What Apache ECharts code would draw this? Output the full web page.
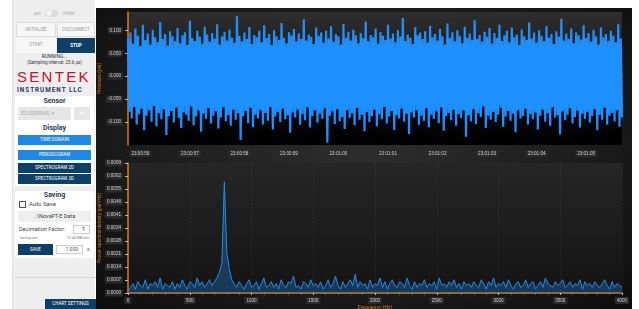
<!DOCTYPE html>
<html>
<head>
<meta charset="UTF-8" />
<script src="https://cdn.jsdelivr.net/npm/echarts@6/dist/echarts.min.js"></script>
<style>
	body { margin: 0; width: 639px; height: 309px; overflow: hidden; background: #fff; font-family: Roboto, "DejaVu Sans", sans-serif; position: relative; }
	.abs { position: absolute; box-sizing: border-box; }
	#panel { left: 12px; top: 0; width: 83px; height: 309px; background: #eeeeee; border-left: 1px solid #e0e0e0; }
	.btn { position: absolute; box-sizing: border-box; text-align: center; font-size: 4.5px; line-height: 10px; color: #fff; white-space: nowrap; }
	.light { background: #f7f7f7; color: #999; border: 1px solid #ddd; }
	.navy { background: #0e3f66; }
	.blue { background: #1e88e5; }
	.card { position: absolute; background: #fff; border-radius: 2px; }
	.hdr { position: absolute; width: 100%; text-align: center; color: #1f3a5f; font-size: 7px; font-weight: bold; }
	.txt { position: absolute; white-space: nowrap; color: #444; }
	#chartbox { left: 96px; top: 8px; width: 536px; height: 301px; background: radial-gradient(ellipse at 50% 45%, #2e2e2e 0%, #1c1c1c 60%, #0d0d0d 100%); }
</style>
</head>
<body>
<div id="panel" class="abs">
	<div class="txt" style="left:21px;top:10px;font-size:5px;color:#aaa;">psi</div>
	<div class="abs" style="left:32px;top:10px;width:13px;height:7px;border-radius:4px;background:#ddd;"></div>
	<div class="abs" style="left:32px;top:9px;width:8px;height:8px;border-radius:4px;background:#f4f4f4;border:1px solid #ddd;"></div>
	<div class="txt" style="left:50px;top:10px;font-size:5px;color:#aaa;">mbar</div>

	<div class="btn light" style="left:3px;top:22px;width:40px;height:15px;line-height:13px;">INITIALIZE</div>
	<div class="btn light" style="left:44px;top:22px;width:38px;height:15px;line-height:13px;">DISCONNECT</div>
	<div class="btn light" style="left:3px;top:38px;width:40px;height:15px;line-height:13px;border:none;">START</div>
	<div class="btn navy" style="left:44px;top:38px;width:38px;height:15px;line-height:15px;font-weight:bold;">STOP</div>

	<div class="txt" style="left:0;width:83px;text-align:center;top:53px;font-size:5px;color:#333;">RUNNING...</div>
	<div class="txt" style="left:0;width:83px;text-align:center;top:60px;font-size:4.5px;color:#333;">(Sampling interval: 25.6 µs)</div>
	<div class="txt" style="left:4px;top:69px;font-size:15px;line-height:16px;color:#c8102e;letter-spacing:2.3px;font-family:'Liberation Sans',Arial,sans-serif;">SENTEK</div>
	<div class="txt" style="left:4px;top:86px;font-size:6.3px;font-weight:bold;color:#1f3a5f;letter-spacing:1px;">INSTRUMENT LLC</div>

	<div class="card" style="left:2px;top:96px;width:79px;height:90px;">
		<div class="hdr" style="top:1px;">Sensor</div>
		<div class="abs" style="left:3px;top:11px;width:53px;height:13px;background:#e6e6e6;font-size:5px;color:#aaa;line-height:13px;padding-left:3px;">E225508045 &nbsp;▾</div>
		<div class="abs" style="left:59px;top:11px;width:16px;height:13px;background:#e6e6e6;color:#fff;font-size:8px;text-align:center;line-height:13px;">+</div>
		<div class="hdr" style="top:28px;">Display</div>
		<div class="btn blue" style="left:3px;top:39px;width:73px;height:10px;">TIME DOMAIN</div>
		<div class="btn blue" style="left:3px;top:54px;width:73px;height:10px;">PERIODOGRAM</div>
		<div class="btn navy" style="left:3px;top:67px;width:73px;height:10px;">SPECTROGRAM 2D</div>
		<div class="btn navy" style="left:3px;top:78px;width:73px;height:10px;">SPECTROGRAM 3D</div>
	</div>

	<div class="card" style="left:2px;top:191px;width:79px;height:67px;">
		<div class="hdr" style="top:0px;">Saving</div>
		<div class="abs" style="left:4px;top:10px;width:7px;height:7px;border:1px solid #555;background:#fff;"></div>
		<div class="txt" style="left:14px;top:9px;font-size:6px;">Auto Save</div>
		<div class="abs" style="left:3px;top:20px;width:73px;height:11px;background:#eeeeee;font-size:5.5px;color:#444;text-align:center;line-height:11px;">..\NovaPT-E Data</div>
		<div class="txt" style="left:4px;top:35px;font-size:5.5px;">Decimation Factor:</div>
		<div class="abs" style="left:58px;top:34px;width:17px;height:9px;border:1px solid #ccc;font-size:5.5px;text-align:right;padding-right:4px;line-height:7px;">1</div>
		<div class="txt" style="left:5px;top:45px;font-size:3.5px;color:#777;">Saving rate</div>
		<div class="txt" style="left:52px;top:45px;font-size:3.5px;color:#777;">22.44 MB/min</div>
		<div class="btn navy" style="left:3px;top:53px;width:35px;height:11px;line-height:11px;">SAVE</div>
		<div class="abs" style="left:41px;top:54px;width:27px;height:9px;border:1px solid #ccc;font-size:5px;text-align:right;padding-right:4px;line-height:7px;color:#555;">1.000</div>
		<div class="txt" style="left:72px;top:55px;font-size:5px;color:#555;">s</div>
	</div>

	<div class="abs" style="left:2px;top:277px;width:81px;height:1px;background:#d6d6d6;"></div>
	<div class="btn navy" style="left:32px;top:299px;width:51px;height:10px;">CHART SETTINGS</div>
</div>

<div id="chartbox" class="abs"></div>

<script type="text/javascript">
	// top plot: time axis labels and pressure samples (alternating upper / lower swings)
	var timeLabels = ['23:00:56', '23:00:57', '23:00:58', '23:00:59', '23:01:00', '23:01:01', '23:01:02', '23:01:03', '23:01:04', '23:01:05'];
	var highVals = [
		0.082,0.095,0.071,0.104,0.088,0.066,0.112,0.079,0.093,0.069,0.101,0.085,0.074,0.118,0.081,0.092,0.067,0.098,0.087,0.076,
		0.105,0.072,0.089,0.096,0.068,0.121,0.083,0.077,0.099,0.086,0.071,0.108,0.091,0.075,0.094,0.082,0.113,0.069,0.087,0.097,
		0.078,0.102,0.084,0.073,0.131,0.088,0.076,0.095,0.081,0.107,0.070,0.090,0.085,0.099,0.074,0.111,0.083,0.092,0.068,0.100,
		0.087,0.079,0.116,0.084,0.072,0.096,0.089,0.103,0.076,0.093,0.081,0.124,0.078,0.091,0.086,0.070,0.106,0.088,0.095,0.073,
		0.099,0.082,0.109,0.075,0.092,0.087,0.069,0.114,0.084,0.097,0.078,0.101,0.089,0.072,0.094,0.083,0.119,0.076,0.090,0.085,
		0.104,0.071,0.096,0.088,0.079,0.112,0.082,0.093,0.074,0.100,0.086,0.127,0.077,0.091,0.084,0.070,0.107,0.089,0.095,0.081,
		0.098,0.073,0.110,0.085,0.092,0.078,0.103,0.087,0.069,0.115,0.083,0.096,0.076,0.100,0.088,0.072,0.108,0.084,0.093,0.079,
		0.122,0.081,0.090,0.075,0.097,0.086,0.105,0.071,0.094,0.083,0.112,0.077,0.089,0.099,0.074,0.106,0.085,0.091,0.068,0.102,
		0.087,0.079,0.117,0.082,0.095,0.073,0.100,0.088,0.076,0.109,0.084,0.092,0.070,0.098,0.086,0.125,0.078,0.093,0.081,0.104,
		0.072,0.096,0.089,0.080,0.111,0.083,0.094,0.075,0.101,0.087,0.069,0.106,0.085,0.092,0.077,0.099,0.088,0.074,0.113,0.082
	];
	var lowVals = [
		-0.078,-0.092,-0.067,-0.105,-0.083,-0.071,-0.118,-0.086,-0.074,-0.099,-0.065,-0.109,-0.081,-0.094,-0.072,-0.128,-0.087,-0.076,-0.101,-0.069,
		-0.091,-0.113,-0.079,-0.084,-0.097,-0.066,-0.107,-0.088,-0.075,-0.121,-0.082,-0.093,-0.070,-0.103,-0.086,-0.077,-0.114,-0.090,-0.068,-0.098,
		-0.085,-0.108,-0.073,-0.095,-0.081,-0.139,-0.087,-0.076,-0.102,-0.069,-0.111,-0.084,-0.092,-0.074,-0.105,-0.080,-0.097,-0.067,-0.116,-0.088,
		-0.078,-0.100,-0.071,-0.094,-0.085,-0.123,-0.079,-0.090,-0.073,-0.106,-0.083,-0.096,-0.068,-0.112,-0.087,-0.075,-0.101,-0.082,-0.093,-0.070,
		-0.145,-0.086,-0.077,-0.104,-0.072,-0.098,-0.089,-0.115,-0.074,-0.091,-0.081,-0.107,-0.069,-0.095,-0.084,-0.120,-0.078,-0.100,-0.087,-0.073,
		-0.109,-0.083,-0.094,-0.067,-0.103,-0.088,-0.076,-0.117,-0.085,-0.092,-0.071,-0.099,-0.082,-0.126,-0.079,-0.090,-0.074,-0.106,-0.086,-0.097,
		-0.070,-0.111,-0.084,-0.093,-0.077,-0.102,-0.068,-0.119,-0.087,-0.080,-0.096,-0.073,-0.108,-0.083,-0.091,-0.075,-0.132,-0.085,-0.098,-0.072,
		-0.104,-0.081,-0.089,-0.066,-0.113,-0.086,-0.095,-0.078,-0.100,-0.084,-0.069,-0.110,-0.088,-0.076,-0.097,-0.082,-0.122,-0.074,-0.092,-0.087,
		-0.071,-0.105,-0.083,-0.094,-0.079,-0.116,-0.086,-0.073,-0.099,-0.081,-0.108,-0.068,-0.090,-0.085,-0.127,-0.077,-0.096,-0.084,-0.070,-0.103,
		-0.089,-0.075,-0.112,-0.082,-0.093,-0.078,-0.101,-0.087,-0.072,-0.118,-0.084,-0.095,-0.069,-0.106,-0.086,-0.080,-0.098,-0.074,-0.110,-0.090
	];

	// bottom plot: PSD sampled every 20 Hz from 0 to 4000 Hz
	var freqStep = 20;
	var psdVals = [
		0.0001,0.0003,0.0005,0.0002,0.0006,0.0004,0.0003,0.0007,0.0002,0.0005,0.0004,0.0006,0.0003,0.0008,0.0002,0.0005,0.0004,0.0003,0.0006,0.0002,
		0.0005,0.0003,0.0007,0.0004,0.0002,0.0006,0.0005,0.0003,0.0008,0.0004,0.0006,0.0003,0.0005,0.0007,0.0004,0.0006,0.0008,0.0011,0.0016,0.0059,
		0.0021,0.0013,0.0007,0.0005,0.0003,0.0006,0.0004,0.0002,0.0005,0.0007,0.0003,0.0004,0.0006,0.0002,0.0005,0.0008,0.0003,0.0004,0.0006,0.0003,
		0.0005,0.0002,0.0007,0.0004,0.0003,0.0006,0.0005,0.0009,0.0003,0.0004,0.0002,0.0006,0.0005,0.0003,0.0007,0.0004,0.0005,0.0003,0.0006,0.0002,
		0.0004,0.0007,0.0003,0.0005,0.0009,0.0004,0.0002,0.0006,0.0003,0.0005,0.0007,0.0004,0.0010,0.0003,0.0006,0.0004,0.0005,0.0002,0.0007,0.0003,
		0.0005,0.0004,0.0008,0.0003,0.0006,0.0002,0.0005,0.0007,0.0004,0.0003,0.0006,0.0005,0.0003,0.0008,0.0004,0.0002,0.0006,0.0003,0.0005,0.0004,
		0.0007,0.0003,0.0005,0.0004,0.0006,0.0002,0.0008,0.0004,0.0005,0.0003,0.0006,0.0004,0.0007,0.0003,0.0005,0.0002,0.0006,0.0004,0.0005,0.0003,
		0.0006,0.0004,0.0003,0.0007,0.0005,0.0002,0.0006,0.0004,0.0008,0.0003,0.0005,0.0004,0.0006,0.0003,0.0007,0.0004,0.0002,0.0005,0.0006,0.0003,
		0.0004,0.0007,0.0003,0.0005,0.0006,0.0002,0.0004,0.0006,0.0003,0.0008,0.0005,0.0004,0.0003,0.0006,0.0004,0.0005,0.0007,0.0003,0.0004,0.0006,
		0.0003,0.0005,0.0004,0.0007,0.0002,0.0006,0.0004,0.0005,0.0003,0.0006,0.0004,0.0003,0.0005,0.0007,0.0004,0.0002,0.0006,0.0003,0.0005,0.0004,0.0003
	];

	var pressure = [];
	var idx = [];
	for (var i = 0; i < highVals.length; i++) {
		pressure.push(highVals[i], lowVals[i]);
	}
	for (var j = 0; j < pressure.length; j++) idx.push(String(j));
	var psd = psdVals.map(function (v, k) { return [k * freqStep, v]; });

	var orange = '#e07a12';
	var lblStyle = { color: '#cfcfcf', fontSize: 4.6, backgroundColor: '#2b2b2b', padding: [1, 2], borderRadius: 1 };
	var axisLineStyle = { show: true, lineStyle: { color: orange, width: 1.5 } };
	var faint = { show: true, lineStyle: { color: 'rgba(255,255,255,0.10)', type: 'dashed', width: 0.6 } };

	var myChart = echarts.init(document.getElementById('chartbox'), null, { renderer: 'canvas' });
	var option = {
		backgroundColor: 'transparent',
		animation: false,
		grid: [
			{ left: 32, top: 4, right: 10, height: 133, show: true, borderWidth: 0, outerBoundsMode: 'none', containLabel: false,
			  backgroundColor: new echarts.graphic.LinearGradient(0, 0, 0, 1, [{ offset: 0, color: '#2f2f2f' }, { offset: 0.6, color: '#0a0a0a' }, { offset: 1, color: '#000' }]) },
			{ left: 32, top: 155, right: 10, height: 130, show: true, borderWidth: 0, outerBoundsMode: 'none', containLabel: false,
			  backgroundColor: new echarts.graphic.LinearGradient(0, 0, 0, 1, [{ offset: 0, color: '#262626' }, { offset: 1, color: '#141414' }]) }
		],
		xAxis: [
			{ gridIndex: 0, type: 'category', data: idx, boundaryGap: false,
			  axisLine: axisLineStyle,
			  axisTick: { show: true, length: 2, lineStyle: { color: '#bbb' }, interval: function (n) { return (n - 10) % 8 === 0; } },
			  axisLabel: Object.assign({ margin: 5, interval: function (n) { return n >= 10 && (n - 10) % 40 === 0; },
				  formatter: function (v, n) { return timeLabels[(n - 10) / 40] || ''; } }, lblStyle),
			  splitLine: { show: false } },
			{ gridIndex: 1, type: 'value', min: 0, max: 4000, interval: 500,
			  name: 'Frequency (Hz)', nameLocation: 'middle', nameGap: 12, nameMoveOverlap: false, nameTextStyle: { color: orange, fontSize: 5 },
			  axisLine: axisLineStyle,
			  axisTick: { show: true, length: 2, lineStyle: { color: '#bbb' } },
			  minorTick: { show: true, splitNumber: 5, length: 1.5, lineStyle: { color: '#888' } },
			  axisLabel: Object.assign({ margin: 4, formatter: function (v) { return String(v); } }, lblStyle),
			  splitLine: faint }
		],
		yAxis: [
			{ gridIndex: 0, type: 'value', min: -0.15, max: 0.14, interval: 0.05,
			  name: 'Pressure (psi)', nameLocation: 'middle', nameGap: 26, nameRotate: 90, nameMoveOverlap: false, nameTextStyle: { color: orange, fontSize: 5 },
			  axisLine: axisLineStyle,
			  axisTick: { show: true, length: 3, lineStyle: { color: '#bbb' } },
			  axisLabel: Object.assign({ margin: 5, showMinLabel: false, showMaxLabel: false,
				  formatter: function (v) { return v.toFixed(3); } }, lblStyle),
			  splitLine: { show: false } },
			{ gridIndex: 1, type: 'value', min: 0, max: 0.0069, interval: 0.00069,
			  name: 'Power spectral density (psi²/Hz)', nameLocation: 'middle', nameGap: 26, nameRotate: 90, nameMoveOverlap: false, nameTextStyle: { color: orange, fontSize: 5 },
			  axisLine: axisLineStyle,
			  axisTick: { show: true, length: 3, lineStyle: { color: '#bbb' } },
			  axisLabel: Object.assign({ margin: 5, formatter: function (v) { return v.toFixed(4); } }, lblStyle),
			  splitLine: { show: false } }
		],
		series: [
			{ type: 'line', xAxisIndex: 0, yAxisIndex: 0, data: pressure, showSymbol: false, sampling: null,
			  lineStyle: { color: '#1e90ff', width: 2.2 }, itemStyle: { color: '#1e90ff' } },
			{ type: 'line', xAxisIndex: 1, yAxisIndex: 1, data: psd, showSymbol: false,
			  lineStyle: { color: '#1f8ef0', width: 1 }, itemStyle: { color: '#1f8ef0' },
			  areaStyle: { color: 'rgba(30,136,229,0.45)' } }
		]
	};
	myChart.setOption(option);
</script>
</body>
</html>
